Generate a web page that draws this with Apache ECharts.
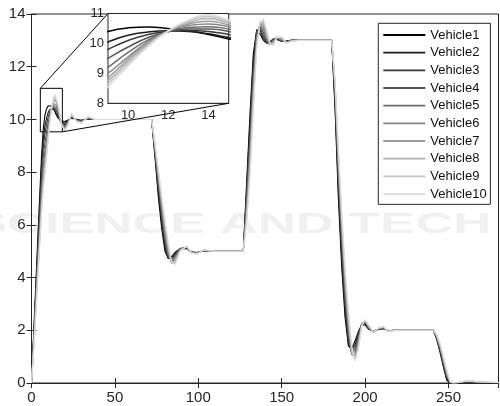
<!DOCTYPE html>
<html><head><meta charset="utf-8">
<script src="https://cdn.jsdelivr.net/npm/echarts@6/dist/echarts.min.js"></script>
<style>html,body{margin:0;padding:0;background:#fff}#c{width:500px;height:406px}</style>
</head><body><div id="c"></div>
<script>
const vehicleNames = ['Vehicle1','Vehicle2','Vehicle3','Vehicle4','Vehicle5','Vehicle6','Vehicle7','Vehicle8','Vehicle9','Vehicle10'];
const vehicleColors = ['#000000','#1c1c1c','#383838','#555555','#6e6e6e','#878787','#9c9c9c','#b0b0b0','#c6c6c6','#dcdcdc'];

const times = [
  0, 2, 4, 6, 7, 8, 9, 10, 11, 12, 13, 14, 15, 16, 17, 18, 20, 22, 24, 27, 30, 34, 38, 45,
  72, 74, 76, 78, 80, 82, 84, 86, 89, 93, 96, 99, 103, 110,
  127, 129, 131, 133, 135, 137, 139, 141, 143, 145, 147, 150, 153, 156, 160, 170,
  180, 182, 184, 186, 188, 190, 192, 194, 196, 198, 200, 202, 205, 208, 211, 214, 218, 225,
  241, 243, 245, 247, 249, 251, 253, 256, 260, 264, 268, 272, 280
];

const vehicle1 = [
  0, 2.9, 5.8, 8.6, 9.6, 10.15, 10.4, 10.52, 10.55, 10.5, 10.42, 10.3, 10.15, 10.05, 10.0, 9.95, 9.92, 9.98, 10.05, 10.0, 9.97, 10.02, 10.0, 10.0,
  10, 8.6, 7.1, 5.9, 5.0, 4.72, 4.8, 4.95, 5.1, 5.1, 4.98, 4.95, 5.02, 5.0,
  5, 7.6, 10.2, 12.5, 13.35, 13.25, 13.0, 12.9, 12.95, 13.05, 13.03, 12.97, 12.98, 13.0, 13.0, 13.0,
  13, 10.4, 7.0, 4.4, 2.5, 1.4, 1.3, 1.6, 1.95, 2.2, 2.2, 2.05, 1.97, 2.03, 2.06, 1.99, 2.0, 2.0,
  2, 1.65, 1.15, 0.6, 0.1, 0, 0, 0, 0.02, 0.03, 0.02, 0.01, 0
];
const vehicle2 = [
  0, 2.7, 5.5, 8.2, 9.2, 9.75, 10.05, 10.27, 10.38, 10.42, 10.4, 10.32, 10.2, 10.08, 9.98, 9.9, 9.85, 9.97, 10.08, 10.0, 9.96, 10.03, 10.0, 10.0,
  10, 8.7, 7.3, 6.1, 5.15, 4.72, 4.75, 4.92, 5.1, 5.12, 4.97, 4.94, 5.02, 5.0,
  5, 7.4, 9.9, 12.25, 13.4, 13.38, 13.08, 12.9, 12.92, 13.05, 13.05, 12.97, 12.97, 13.0, 13.0, 13.0,
  13, 10.6, 7.3, 4.7, 2.75, 1.5, 1.22, 1.45, 1.9, 2.22, 2.25, 2.06, 1.96, 2.04, 2.07, 1.98, 2.0, 2.0,
  2, 1.68, 1.2, 0.66, 0.15, 0, 0, 0.01, 0.03, 0.04, 0.03, 0.01, 0
];
const vehicle3 = [
  0, 2.6, 5.3, 7.9, 8.9, 9.45, 9.8, 10.1, 10.3, 10.4, 10.43, 10.4, 10.3, 10.15, 10.0, 9.88, 9.8, 9.95, 10.1, 9.98, 9.95, 10.04, 10.0, 10.0,
  10, 8.8, 7.45, 6.3, 5.3, 4.75, 4.7, 4.88, 5.1, 5.13, 4.97, 4.93, 5.03, 5.0,
  5, 7.2, 9.6, 12.0, 13.35, 13.48, 13.18, 12.92, 12.9, 13.05, 13.07, 12.97, 12.96, 13.0, 13.0, 13.0,
  13, 10.8, 7.6, 5.0, 3.0, 1.65, 1.15, 1.32, 1.85, 2.24, 2.28, 2.08, 1.95, 2.05, 2.08, 1.98, 2.0, 2.0,
  2, 1.7, 1.24, 0.71, 0.2, 0, 0, 0.01, 0.04, 0.04, 0.03, 0.02, 0
];
const vehicle4 = [
  0, 2.5, 5.1, 7.6, 8.55, 9.1, 9.5, 9.88, 10.2, 10.4, 10.48, 10.48, 10.4, 10.22, 10.03, 9.86, 9.75, 9.93, 10.12, 9.97, 9.93, 10.05, 10.0, 10.0,
  10, 8.85, 7.6, 6.45, 5.45, 4.8, 4.65, 4.83, 5.1, 5.14, 4.96, 4.92, 5.03, 5.0,
  5, 7.0, 9.3, 11.75, 13.25, 13.55, 13.3, 12.97, 12.87, 13.03, 13.08, 12.98, 12.95, 13.01, 13.0, 13.0,
  13, 11.0, 7.85, 5.3, 3.25, 1.8, 1.1, 1.2, 1.78, 2.25, 2.31, 2.1, 1.94, 2.06, 2.09, 1.97, 2.0, 2.0,
  2, 1.72, 1.28, 0.76, 0.25, 0, 0, 0.01, 0.05, 0.05, 0.03, 0.02, 0.01
];
const vehicle5 = [
  0, 2.4, 4.9, 7.3, 8.2, 8.75, 9.2, 9.7, 10.12, 10.4, 10.53, 10.56, 10.48, 10.28, 10.05, 9.84, 9.7, 9.9, 10.14, 9.96, 9.92, 10.06, 10.0, 10.0,
  10, 8.9, 7.7, 6.6, 5.6, 4.87, 4.6, 4.78, 5.08, 5.15, 4.96, 4.92, 5.03, 5.0,
  5, 6.8, 9.0, 11.5, 13.15, 13.62, 13.42, 13.03, 12.85, 13.0, 13.1, 13.0, 12.94, 13.01, 13.0, 13.0,
  13, 11.1, 8.1, 5.55, 3.5, 1.97, 1.07, 1.08, 1.7, 2.25, 2.33, 2.12, 1.93, 2.06, 2.1, 1.97, 2.0, 2.0,
  2, 1.74, 1.32, 0.8, 0.29, 0.01, 0, 0.01, 0.05, 0.05, 0.04, 0.02, 0.01
];
const vehicle6 = [
  0, 2.3, 4.7, 7.0, 7.9, 8.5, 9.0, 9.55, 10.06, 10.41, 10.6, 10.65, 10.56, 10.35, 10.08, 9.82, 9.66, 9.88, 10.16, 9.95, 9.9, 10.07, 10.0, 10.0,
  10, 8.95, 7.8, 6.75, 5.75, 4.95, 4.56, 4.72, 5.06, 5.16, 4.95, 4.91, 5.03, 5.0,
  5, 6.6, 8.7, 11.25, 13.05, 13.66, 13.54, 13.1, 12.84, 12.96, 13.11, 13.03, 12.93, 13.0, 13.0, 13.0,
  13, 11.2, 8.3, 5.8, 3.72, 2.15, 1.1, 0.98, 1.6, 2.24, 2.35, 2.14, 1.92, 2.07, 2.11, 1.96, 2.0, 2.0,
  2, 1.76, 1.35, 0.84, 0.33, 0.02, 0, 0.02, 0.06, 0.06, 0.04, 0.03, 0.01
];
const vehicle7 = [
  0, 2.2, 4.5, 6.8, 7.7, 8.3, 8.85, 9.47, 10.02, 10.42, 10.65, 10.74, 10.62, 10.42, 10.12, 9.82, 9.62, 9.86, 10.18, 9.94, 9.89, 10.08, 10.0, 10.0,
  10, 9.0, 7.9, 6.85, 5.88, 5.05, 4.54, 4.65, 5.04, 5.17, 4.95, 4.91, 5.04, 5.0,
  5, 6.45, 8.45, 11.0, 12.95, 13.68, 13.64, 13.18, 12.84, 12.92, 13.12, 13.06, 12.92, 12.99, 13.0, 13.0,
  13, 11.3, 8.5, 6.0, 3.92, 2.32, 1.15, 0.92, 1.5, 2.22, 2.37, 2.16, 1.92, 2.07, 2.12, 1.96, 2.0, 2.0,
  2, 1.78, 1.38, 0.88, 0.37, 0.03, 0, 0.02, 0.06, 0.06, 0.04, 0.03, 0.01
];
const vehicle8 = [
  0, 2.1, 4.4, 6.6, 7.55, 8.15, 8.75, 9.4, 9.98, 10.42, 10.7, 10.83, 10.68, 10.48, 10.15, 9.82, 9.6, 9.84, 10.2, 9.93, 9.88, 10.09, 10.0, 10.0,
  10, 9.05, 8.0, 6.95, 6.0, 5.15, 4.55, 4.58, 5.02, 5.18, 4.94, 4.9, 5.04, 5.0,
  5, 6.3, 8.2, 10.75, 12.85, 13.68, 13.72, 13.26, 12.86, 12.88, 13.12, 13.09, 12.91, 12.98, 13.0, 13.0,
  13, 11.4, 8.65, 6.2, 4.1, 2.5, 1.22, 0.88, 1.42, 2.2, 2.38, 2.18, 1.92, 2.08, 2.13, 1.95, 2.0, 2.0,
  2, 1.8, 1.42, 0.92, 0.41, 0.04, 0, 0.02, 0.07, 0.06, 0.05, 0.03, 0.02
];
const vehicle9 = [
  0, 2.0, 4.3, 6.5, 7.4, 8.0, 8.65, 9.32, 9.94, 10.42, 10.75, 10.9, 10.73, 10.53, 10.18, 9.82, 9.58, 9.82, 10.22, 9.92, 9.87, 10.1, 10.0, 10.0,
  10, 9.08, 8.08, 7.05, 6.1, 5.25, 4.58, 4.52, 5.0, 5.19, 4.94, 4.9, 5.04, 5.0,
  5, 6.2, 8.0, 10.5, 12.75, 13.66, 13.78, 13.34, 12.88, 12.84, 13.12, 13.12, 12.9, 12.97, 13.0, 13.0,
  13, 11.45, 8.8, 6.35, 4.25, 2.65, 1.3, 0.86, 1.35, 2.18, 2.39, 2.2, 1.93, 2.08, 2.14, 1.95, 2.0, 2.0,
  2, 1.82, 1.46, 0.96, 0.45, 0.05, 0, 0.02, 0.07, 0.07, 0.05, 0.04, 0.02
];
const vehicle10 = [
  0, 1.9, 4.2, 6.4, 7.3, 7.9, 8.55, 9.25, 9.9, 10.42, 10.78, 10.95, 10.78, 10.57, 10.2, 9.82, 9.56, 9.8, 10.24, 9.91, 9.86, 10.11, 10.0, 10.0,
  10, 9.1, 8.15, 7.15, 6.2, 5.35, 4.62, 4.48, 4.98, 5.2, 4.93, 4.9, 5.05, 5.0,
  5, 6.1, 7.8, 10.3, 12.65, 13.63, 13.82, 13.42, 12.9, 12.8, 13.1, 13.14, 12.9, 12.96, 13.0, 13.0,
  13, 11.5, 8.9, 6.5, 4.4, 2.8, 1.4, 0.85, 1.28, 2.15, 2.4, 2.22, 1.94, 2.08, 2.14, 1.95, 2.0, 2.0,
  2, 1.85, 1.5, 1.0, 0.5, 0.06, 0, 0.02, 0.08, 0.07, 0.05, 0.04, 0.02
];
const vehicleValues = [vehicle1, vehicle2, vehicle3, vehicle4, vehicle5, vehicle6, vehicle7, vehicle8, vehicle9, vehicle10];

const mainXTicks = [0, 50, 100, 150, 200, 250];
const mainYTicks = [0, 2, 4, 6, 8, 10, 12, 14];
const insetXTicks = [10, 12, 14];
const insetYTicks = [8, 9, 10, 11];
const insetXRange = [9, 15];
const insetYRange = [8, 11];
const zoomBox = [[5.3, 11.18], [18.5, 9.53]];

const FONT = 'Liberation Sans, Arial, sans-serif';
const AX = '#262626';

const chart = echarts.init(document.getElementById('c'), null, {renderer: 'canvas'});

const series = [];
vehicleValues.forEach((vals, i) => {
  const data = times.map((t, j) => [t, vals[j]]);
  const s = {
    name: vehicleNames[i], type: 'line', xAxisIndex: 0, yAxisIndex: 0,
    data, symbol: 'none', smooth: false, animation: false,
    lineStyle: {color: vehicleColors[i], width: 1.1},
    itemStyle: {color: vehicleColors[i]}, z: 3
  };
  if (i === 0) {
    s.markArea = {
      silent: true,
      itemStyle: {color: 'rgba(0,0,0,0)', borderColor: '#000', borderWidth: 1},
      data: [[{coord: zoomBox[0]}, {coord: zoomBox[1]}]]
    };
  }
  series.push(s);
});
vehicleValues.forEach((vals, i) => {
  const data = times.map((t, j) => [t, vals[j]]);
  series.push({
    name: vehicleNames[i], type: 'line', xAxisIndex: 2, yAxisIndex: 2,
    data, symbol: 'none', smooth: 0.5, animation: false, clip: true,
    lineStyle: {color: vehicleColors[i], width: 1.5},
    itemStyle: {color: vehicleColors[i]}, z: 5
  });
});

const watermark = {type: 'text', z: -10, silent: true, left: -28, top: 210, scaleX: 1.75,
  style: {text: 'SCIENCE AND TECH', fill: '#f0f0f0', font: 'bold 30px Liberation Sans, Arial, sans-serif'}};

const option = {
  animation: false,
  backgroundColor: '#fff',
  textStyle: {fontFamily: FONT},
  grid: [
    {left: 31.5, top: 14, width: 467, height: 369, show: true, borderColor: AX, borderWidth: 1, backgroundColor: 'transparent', z: 1},
    {left: 108, top: 13.5, width: 120.7, height: 89.8, show: true, borderColor: AX, borderWidth: 1, backgroundColor: '#fff', z: 4}
  ],
  xAxis: [
    {type: 'value', gridIndex: 0, min: 0, max: 280, interval: 50, position: 'bottom',
     axisLine: {show: true, lineStyle: {color: AX}}, axisTick: {inside: true, length: 5, lineStyle: {color: AX}},
     axisLabel: {color: AX, fontSize: 15, fontFamily: FONT, margin: 7, customValues: mainXTicks},
     splitLine: {show: false}},
    {type: 'value', gridIndex: 0, min: 0, max: 280, interval: 50, position: 'top',
     axisLine: {show: false}, axisTick: {inside: true, length: 5, lineStyle: {color: AX}},
     axisLabel: {show: false}, splitLine: {show: false}},
    {type: 'value', gridIndex: 1, min: insetXRange[0], max: insetXRange[1], position: 'bottom',
     axisLine: {show: true, lineStyle: {color: AX}},
     axisTick: {inside: true, length: 4, customValues: insetXTicks, lineStyle: {color: AX}},
     axisLabel: {color: AX, fontSize: 13, fontFamily: FONT, margin: 6, customValues: insetXTicks},
     splitLine: {show: true, lineStyle: {color: '#e3e3e3', width: 1}}}
  ],
  yAxis: [
    {type: 'value', gridIndex: 0, min: 0, max: 14, interval: 2, position: 'left',
     axisLine: {show: true, lineStyle: {color: AX}}, axisTick: {inside: true, length: 5, lineStyle: {color: AX}},
     axisLabel: {color: AX, fontSize: 15, fontFamily: FONT, margin: 6, customValues: mainYTicks},
     splitLine: {show: false}},
    {type: 'value', gridIndex: 0, min: 0, max: 14, interval: 2, position: 'right',
     axisLine: {show: false}, axisTick: {inside: true, length: 5, lineStyle: {color: AX}},
     axisLabel: {show: false}, splitLine: {show: false}},
    {type: 'value', gridIndex: 1, min: insetYRange[0], max: insetYRange[1], interval: 1, position: 'left',
     axisLine: {show: true, lineStyle: {color: AX}},
     axisTick: {inside: true, length: 4, lineStyle: {color: AX}},
     axisLabel: {color: AX, fontSize: 13, fontFamily: FONT, margin: 4, customValues: insetYTicks},
     splitLine: {show: true, lineStyle: {color: '#e3e3e3', width: 1}}}
  ],
  legend: {
    data: vehicleNames, orient: 'vertical', left: 378.3, top: 23.3,
    itemWidth: 42, itemHeight: 14, itemGap: 3.67,
    padding: [4.7, 3.7, 3.3, 5],
    backgroundColor: '#fff', borderColor: AX, borderWidth: 1,
    icon: 'path://M0,0 L42,0 L42,1.8 L0,1.8 Z',
    textStyle: {color: '#111', fontSize: 13, fontFamily: FONT, lineHeight: 14},
    z: 10
  },
  graphic: [watermark],
  series
};
chart.setOption(option);

function addConnectors() {
  const a1 = chart.convertToPixel({gridIndex: 0}, [zoomBox[0][0], zoomBox[0][1]]);
  const b1 = chart.convertToPixel({gridIndex: 1}, [insetXRange[0], insetYRange[1]]);
  const a2 = chart.convertToPixel({gridIndex: 0}, [zoomBox[1][0], zoomBox[1][1]]);
  const b2 = chart.convertToPixel({gridIndex: 1}, [insetXRange[1], insetYRange[0]]);
  chart.setOption({
    graphic: [
      watermark,
      {type: 'line', z: 6, silent: true, shape: {x1: a1[0], y1: a1[1], x2: b1[0], y2: b1[1]}, style: {stroke: '#000', lineWidth: 1}},
      {type: 'line', z: 6, silent: true, shape: {x1: a2[0], y1: a2[1], x2: b2[0], y2: b2[1]}, style: {stroke: '#000', lineWidth: 1}}
    ]
  });
}
addConnectors();
</script>
</body></html>
